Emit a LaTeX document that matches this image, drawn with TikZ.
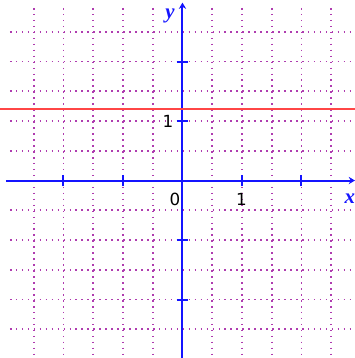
\documentclass[tikz,border=0pt]{standalone}
\usepackage[dvipsnames,svgnames,x11names]{xcolor}
\usepackage{fontspec}
\usepackage{tikz}
\usetikzlibrary{arrows.meta}
\newfontfamily\numfont{DejaVu Sans}
\newfontfamily\varfont{Liberation Serif}

\definecolor{gridmag}{RGB}{175,60,175}
\definecolor{axisblue}{RGB}{20,20,255}
\definecolor{linered}{RGB}{255,70,70}

\begin{document}
\begin{tikzpicture}[
    gridline/.style={gridmag, line width=0.75pt, dash pattern=on 0.75pt off 2.1pt},
    axisline/.style={axisblue, line width=0.95pt, -{Stealth[length=3pt,width=3.5pt]}},
    tickmark/.style={axisblue, line width=0.95pt},
    numlabel/.style={font=\numfont\fontsize{8}{9}\selectfont, inner sep=0pt},
    varlabel/.style={axisblue, font=\varfont\bfseries\itshape\fontsize{10}{11}\selectfont, inner sep=0pt},
    graphline/.style={linered, line width=1pt},
]
    \useasboundingbox (-3.067,-2.983) rectangle (2.899,3.034);
    % grid
    \foreach \k in {-2.5,-2,...,2.5} {
        \draw[gridline] (\k,2.9) -- (\k,-2.983);
        \draw[gridline] (-2.9,\k) -- (2.899,\k);
    }
    % axes
    \coordinate (xstart) at (-2.97,0);
    \coordinate (xend) at (2.899,0);
    \coordinate (ystart) at (0,-2.983);
    \coordinate (yend) at (0,2.99);
    \draw[axisline] (xstart) -- (xend);
    \draw[axisline] (ystart) -- (yend);
    \foreach \k in {-2,-1,1,2} {
        \draw[tickmark] (\k,-0.1) -- (\k,0.1);
        \draw[tickmark] (-0.1,\k) -- (0.1,\k);
    }
    % the line y = 1.2
    \coordinate (lstart) at (-3.067,1.2);
    \coordinate (lend) at (2.899,1.2);
    \draw[graphline] (lstart) -- (lend);
    % labels
    \node[numlabel] (origin) at (-0.126,-0.31) {0};
    \node[numlabel] (xone) at (0.99,-0.31) {1};
    \node[numlabel] (yone) at (-0.244,1.0) {1};
    \node[varlabel] (ylab) at (-0.21,2.76) {y};
    \node[varlabel] (xlab) at (2.815,-0.3) {x};
\end{tikzpicture}
\end{document}
